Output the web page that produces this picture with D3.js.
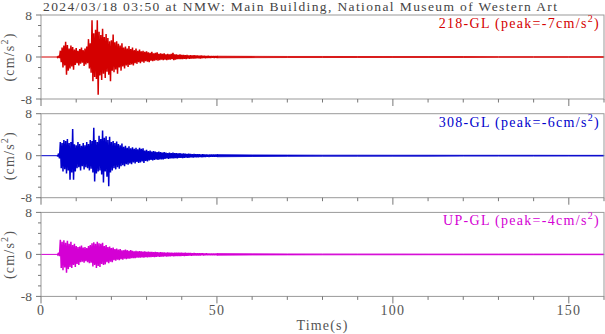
<!DOCTYPE html>
<html>
<head>
<meta charset="utf-8">
<script src="https://cdn.jsdelivr.net/npm/d3@7"></script>
<style>
  body { margin: 0; background: #fff; }
  text { font-family: "Liberation Serif", "Times New Roman", serif; }
</style>
</head>
<body>
<div id="chart"></div>
<script>
    "use strict";

    // strong-motion part, read every 0.5 s from 4.5 s to 50 s (upper / lower extremes, cm/s2)
    const activeStart = 4.5, activeStep = 0.5;

    const nsHi = [0.1,0.2,1.2,1.8,2.2,2.9,2.3,1.6,2.2,1.9,
        1.4,1.7,1.2,1.5,1.8,1.3,1.6,2.0,3.4,2.6,
        7.0,4.5,5.2,7.0,4.8,4.2,5.4,3.8,4.4,3.6,
        3.0,3.2,4.3,2.8,3.0,2.5,2.2,2.6,1.8,2.0,
        1.6,2.1,1.5,1.8,1.3,1.6,1.2,1.4,1.1,1.2,
        1.0,1.1,0.9,0.8,1.0,0.7,0.8,0.9,0.6,0.7,
        0.6,0.7,0.5,0.6,0.5,0.6,0.8,0.5,0.5,0.4,
        0.5,0.4,0.4,0.35,0.4,0.3,0.35,0.3,0.35,0.3,
        0.3,0.25,0.3,0.25,0.25,0.2,0.25,0.2,0.2,0.2,
        0.2,0.15];
    const nsLo = [-0.1,-0.2,-1.0,-2.0,-1.6,-3.4,-2.6,-2.2,-1.8,-2.4,
        -1.5,-1.2,-1.6,-1.3,-1.1,-1.7,-1.4,-1.2,-2.2,-3.0,
        -4.6,-3.8,-4.2,-7.2,-3.5,-4.4,-3.2,-4.0,-2.8,-3.4,
        -4.6,-2.6,-2.9,-2.4,-3.2,-2.0,-2.6,-1.8,-2.2,-1.6,
        -1.9,-1.5,-1.4,-1.6,-1.2,-1.3,-1.0,-1.2,-0.9,-1.1,
        -0.8,-0.9,-1.0,-0.7,-0.8,-0.7,-0.6,-0.7,-0.6,-0.5,
        -0.6,-0.5,-0.6,-0.5,-0.5,-0.4,-0.6,-0.5,-0.4,-0.4,
        -0.4,-0.4,-0.35,-0.4,-0.3,-0.35,-0.3,-0.3,-0.3,-0.25,
        -0.25,-0.3,-0.25,-0.2,-0.25,-0.2,-0.2,-0.2,-0.15,-0.2,
        -0.15,-0.15];

    const ewHi = [0.1,0.4,2.6,2.4,3.0,2.8,3.2,2.4,2.6,5.1,
        2.2,2.0,2.6,2.2,1.9,2.4,2.0,2.6,2.2,3.0,
        2.8,5.3,3.0,2.6,3.8,3.2,4.8,3.4,3.7,3.0,
        3.6,2.6,2.8,2.4,2.7,2.2,2.0,2.3,1.7,1.9,
        1.5,1.8,1.4,1.6,1.3,1.5,1.2,1.5,1.3,1.4,
        1.0,1.1,0.9,1.0,0.8,0.9,0.8,0.7,0.8,0.7,
        0.6,0.7,0.6,0.5,0.6,0.5,0.6,0.5,0.5,0.45,
        0.5,0.4,0.45,0.4,0.35,0.4,0.35,0.3,0.35,0.3,
        0.3,0.3,0.25,0.3,0.25,0.25,0.2,0.25,0.2,0.2,
        0.2,0.2];
    const ewLo = [-0.1,-0.5,-2.4,-3.0,-2.6,-3.4,-2.8,-4.6,-3.2,-4.6,
        -3.0,-2.4,-2.2,-2.8,-2.0,-2.6,-2.2,-2.4,-2.8,-2.5,
        -3.2,-4.9,-3.4,-3.0,-2.8,-3.6,-5.1,-3.0,-4.0,-5.8,
        -3.2,-2.8,-2.4,-2.6,-2.2,-2.5,-2.0,-1.8,-2.0,-1.6,
        -1.7,-1.5,-1.6,-1.3,-1.5,-1.2,-1.4,-1.3,-1.1,-1.4,
        -1.0,-1.1,-0.9,-0.8,-0.9,-0.8,-0.7,-0.8,-0.7,-0.7,
        -0.7,-0.6,-0.5,-0.6,-0.5,-0.5,-0.5,-0.45,-0.5,-0.4,
        -0.4,-0.45,-0.4,-0.35,-0.4,-0.35,-0.3,-0.35,-0.3,-0.3,
        -0.3,-0.25,-0.3,-0.25,-0.25,-0.2,-0.25,-0.2,-0.2,-0.2,
        -0.2,-0.15];

    const udHi = [0.1,0.3,2.8,2.4,2.7,2.2,2.6,2.0,2.4,1.8,
        2.0,1.6,1.4,1.5,1.7,1.3,1.4,1.2,1.6,1.8,
        2.1,2.3,2.0,2.4,2.1,2.0,2.2,1.6,1.8,1.4,
        1.5,1.2,1.3,1.0,1.1,0.9,1.0,0.8,0.8,0.9,
        0.8,0.7,0.8,0.7,0.6,0.7,0.6,0.65,0.6,0.55,
        0.6,0.5,0.55,0.5,0.5,0.45,0.5,0.45,0.4,0.45,
        0.4,0.4,0.35,0.4,0.35,0.35,0.3,0.35,0.3,0.3,
        0.3,0.3,0.25,0.3,0.25,0.25,0.25,0.2,0.25,0.2,
        0.2,0.2,0.2,0.2,0.15,0.2,0.15,0.15,0.15,0.15,
        0.15,0.15];
    const udLo = [-0.1,-0.3,-2.6,-3.0,-2.5,-3.5,-2.8,-2.4,-2.6,-2.0,
        -2.4,-1.8,-2.0,-1.5,-1.4,-1.6,-1.3,-1.5,-1.7,-1.6,
        -2.3,-2.0,-2.6,-2.2,-2.4,-1.8,-2.0,-1.9,-1.5,-1.7,
        -1.4,-1.5,-1.1,-1.2,-1.0,-1.1,-0.9,-1.0,-0.8,-0.9,
        -0.8,-0.8,-0.7,-0.7,-0.7,-0.6,-0.6,-0.6,-0.55,-0.6,
        -0.5,-0.55,-0.5,-0.5,-0.45,-0.5,-0.45,-0.4,-0.45,-0.4,
        -0.4,-0.35,-0.4,-0.35,-0.35,-0.3,-0.35,-0.3,-0.3,-0.3,
        -0.3,-0.25,-0.3,-0.25,-0.25,-0.2,-0.25,-0.2,-0.2,-0.2,
        -0.2,-0.2,-0.15,-0.2,-0.15,-0.15,-0.15,-0.15,-0.15,-0.15,
        -0.15,-0.15];

    // coda after 50 s: half-width of the trace band
    const tailTimes = [50, 60, 70, 80, 90, 100, 110, 120, 130, 140, 150, 160];
    const nsTail = [0.15,0.12,0.1,0.1,0.09,0.08,0.08,0.08,0.07,0.07,0.07,0.07];
    const ewTail = [0.2,0.15,0.12,0.1,0.1,0.09,0.09,0.08,0.08,0.08,0.07,0.07];
    const udTail = [0.15,0.12,0.1,0.09,0.08,0.08,0.07,0.07,0.07,0.07,0.06,0.06];

    const channels = ["218-GL", "308-GL", "UP-GL"];
    const peaks = ["-7", "-6", "-4"];
    const colors = ["#d40000", "#0000cc", "#d400d4"];
    const titleText = "2024/03/18 03:50 at NMW: Main Building, National Museum of Western Art";

    const his = [nsHi, ewHi, udHi], los = [nsLo, ewLo, udLo], tails = [nsTail, ewTail, udTail];

    const width = 605, height = 334;
    const left = 41, right = 604;
    const panelTops = [15, 113.7, 212.4], panelH = 84;
    const axisGray = "#777", textGray = "#555";
    const spacing = "1.2px";

    const svg = d3.select("#chart").append("svg")
        .attr("width", width)
        .attr("height", height);

    const x = d3.scaleLinear().domain([0, 160]).range([left, right]);

    svg.append("text")
        .attr("x", 43).attr("y", 11)
        .attr("font-size", 13.5)
        .attr("fill", "#444")
        .attr("textLength", 514)
        .attr("lengthAdjust", "spacing")
        .text(titleText);

    channels.forEach((ch, k) => {
        const top = panelTops[k];
        const y = d3.scaleLinear().domain([-8, 8]).range([top + panelH, top]);
        const g = svg.append("g");

        // trace: pre-event + coda band
        g.append("line")
            .attr("x1", x(0)).attr("x2", x(activeStart))
            .attr("y1", y(0)).attr("y2", y(0))
            .attr("stroke", colors[k]).attr("stroke-width", 1);

        const band = d3.area()
            .x((d, i) => x(tailTimes[i]))
            .y0(d => y(-d))
            .y1(d => y(d));
        g.append("path")
            .attr("d", band(tails[k]))
            .attr("fill", colors[k])
            .attr("stroke", colors[k])
            .attr("stroke-width", 0.8);

        // strong motion: zigzag between read extremes
        const pts = [];
        his[k].forEach((h, i) => {
            const t = activeStart + i * activeStep;
            pts.push([t, h]);
            pts.push([t + activeStep / 2, los[k][i]]);
        });
        const line = d3.line().x(d => x(d[0])).y(d => y(d[1]));
        g.append("path")
            .attr("d", line(pts))
            .attr("fill", "none")
            .attr("stroke", colors[k])
            .attr("stroke-width", 1.5)
            .attr("stroke-linejoin", "miter")
            .attr("stroke-miterlimit", 2);

        // frame
        g.append("rect")
            .attr("x", left).attr("y", top)
            .attr("width", right - left).attr("height", panelH)
            .attr("fill", "none")
            .attr("stroke", "#999").attr("stroke-width", 1);

        // y ticks
        d3.range(-8, 9, 2).forEach(v => {
            const major = v % 8 === 0;
            g.append("line")
                .attr("x1", left - (major ? 5 : 3)).attr("x2", left)
                .attr("y1", y(v)).attr("y2", y(v))
                .attr("stroke", axisGray);
            if (major) {
                g.append("text")
                    .attr("x", 32).attr("y", y(v) + 4.5)
                    .attr("text-anchor", "end")
                    .attr("font-size", 13.5)
                    .attr("fill", textGray)
                    .text(v);
            }
        });

        // x ticks
        d3.range(0, 161, 10).forEach(v => {
            const major = v % 50 === 0;
            g.append("line")
                .attr("x1", x(v)).attr("x2", x(v))
                .attr("y1", top + panelH).attr("y2", top + panelH + (major ? 7 : 3.5))
                .attr("stroke", axisGray);
            if (k === 2 && major) {
                g.append("text")
                    .attr("x", x(v)).attr("y", 315)
                    .attr("text-anchor", "middle")
                    .attr("font-size", 14)
                    .attr("letter-spacing", spacing)
                    .attr("fill", textGray)
                    .text(v);
            }
        });

        // y label
        const yl = g.append("text")
            .attr("transform", `translate(14,${top + panelH / 2}) rotate(-90)`)
            .attr("text-anchor", "middle")
            .attr("font-size", 14)
            .attr("letter-spacing", spacing)
            .attr("fill", textGray);
        yl.append("tspan").text("(cm/s");
        yl.append("tspan").attr("dy", -6).attr("font-size", 10).text("2");
        yl.append("tspan").attr("dy", 6).text(")");

        // channel label
        const lab = g.append("text")
            .attr("x", 600).attr("y", top + 13)
            .attr("text-anchor", "end")
            .attr("font-size", 14)
            .attr("letter-spacing", "1.3px")
            .attr("fill", colors[k]);
        lab.append("tspan").text(`${ch} (peak=${peaks[k]}cm/s`);
        lab.append("tspan").attr("dy", -6).attr("font-size", 10).text("2");
        lab.append("tspan").attr("dy", 6).text(")");
    });

    svg.append("text")
        .attr("x", (left + right) / 2).attr("y", 330)
        .attr("text-anchor", "middle")
        .attr("font-size", 14)
        .attr("letter-spacing", spacing)
        .attr("fill", textGray)
        .text("Time(s)");
</script>
</body>
</html>
